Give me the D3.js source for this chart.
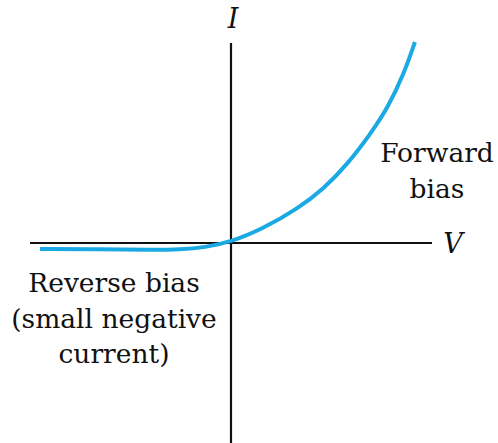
<!DOCTYPE html>
<html>
<head>
<meta charset="utf-8">
<script src="https://cdn.jsdelivr.net/npm/d3@7"></script>
<style>
  body { margin: 0; background: #fff; }
  text { font-family: "DejaVu Serif", "Liberation Serif", serif; fill: #111; }
</style>
</head>
<body>
<svg id="chart"></svg>
<script>
// diode I-V curve, sketch units (axes run -1..1)
const voltage = [-0.95, -0.65, -0.40, -0.25, -0.13, 0.0, 0.16, 0.33, 0.46, 0.58, 0.69, 0.78, 0.86, 0.915];
const current = [-0.03, -0.031, -0.035, -0.033, -0.022, 0.005, 0.072, 0.17, 0.27, 0.395, 0.54, 0.675, 0.845, 1.005];
const axisLabels = ["V", "I"];
const reverseLabel = ["Reverse bias", "(small negative", "current)"];
const forwardLabel = ["Forward", "bias"];

const width = 498, height = 443;
const svg = d3.select("#chart")
    .attr("width", width)
    .attr("height", height);

// scales - origin sits at (231, 243)
const x = d3.scaleLinear().domain([-1, 1]).range([30, 432]);
const y = d3.scaleLinear().domain([-1, 1]).range([443, 43]);

// axes (no ticks, just the two lines)
svg.append("line")
    .attr("x1", x(-1)).attr("x2", x(1))
    .attr("y1", y(0)).attr("y2", y(0))
    .attr("stroke", "#111").attr("stroke-width", 2.2);
svg.append("line")
    .attr("x1", x(0)).attr("x2", x(0))
    .attr("y1", y(-1)).attr("y2", y(1))
    .attr("stroke", "#111").attr("stroke-width", 2.2);

// the curve
const pts = voltage.map((v, i) => [v, current[i]]);
const line = d3.line()
    .x(d => x(d[0]))
    .y(d => y(d[1]))
    .curve(d3.curveBasis);

svg.append("path")
    .datum(pts)
    .attr("d", line)
    .attr("fill", "none")
    .attr("stroke", "#1aa9e3")
    .attr("stroke-width", 4)
    .attr("stroke-linecap", "butt");

// axis letters
svg.append("text")
    .attr("x", x(1) + 21).attr("y", y(0) + 10)
    .attr("text-anchor", "middle")
    .attr("font-style", "italic")
    .attr("font-size", 27)
    .text(axisLabels[0]);
svg.append("text")
    .attr("x", x(0) + 2).attr("y", 28)
    .attr("text-anchor", "middle")
    .attr("font-style", "italic")
    .attr("font-size", 27)
    .text(axisLabels[1]);

// annotations
svg.append("g").selectAll("text")
    .data(reverseLabel)
    .join("text")
    .attr("x", 114)
    .attr("y", (d, i) => 292 + i * 35.5)
    .attr("text-anchor", "middle")
    .attr("font-size", 26.5)
    .text(d => d);

svg.append("g").selectAll("text")
    .data(forwardLabel)
    .join("text")
    .attr("x", 437)
    .attr("y", (d, i) => 162 + i * 36)
    .attr("text-anchor", "middle")
    .attr("font-size", 26.5)
    .text(d => d);
</script>
</body>
</html>
